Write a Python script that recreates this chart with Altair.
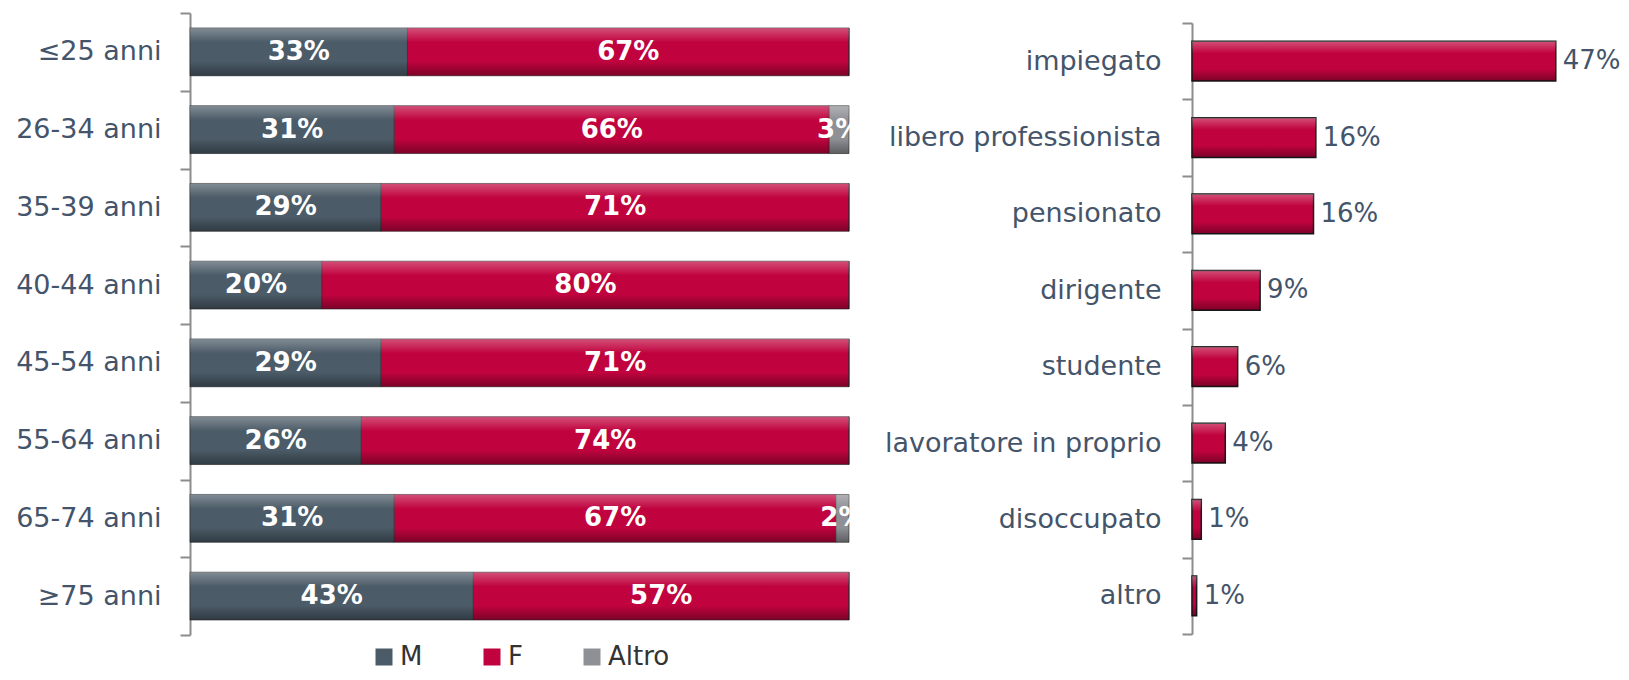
import altair as alt
import pandas as pd

# ---------------- data ----------------
age_groups = ["≤25 anni", "26-34 anni", "35-39 anni", "40-44 anni",
              "45-54 anni", "55-64 anni", "65-74 anni", "≥75 anni"]
pct_m = [33, 31, 29, 20, 29, 26, 31, 43]
pct_f = [67, 66, 71, 80, 71, 74, 67, 57]
pct_altro = [0, 3, 0, 0, 0, 0, 2, 0]
genders = ["M", "F", "Altro"]
gender_colors = ["#4B5B67", "#C0033E", "#8F9096"]

professions = ["impiegato", "libero professionista", "pensionato", "dirigente",
               "studente", "lavoratore in proprio", "disoccupato", "altro"]
prof_values = [47, 16, 15.7, 8.8, 5.9, 4.3, 1.2, 0.6]
prof_labels = ["47%", "16%", "16%", "9%", "6%", "4%", "1%", "1%"]

# ---------------- tables ----------------
rows = []
for i, age in enumerate(age_groups):
    for k, (g, vals) in enumerate(zip(genders, [pct_m, pct_f, pct_altro])):
        rows.append({"age": age, "gender": g, "order": k, "value": vals[i],
                     "label": f"{vals[i]}%"})
df_left = pd.DataFrame(rows)
df_right = pd.DataFrame({"prof": professions, "value": prof_values, "label": prof_labels})

FONT = "DejaVu Sans"
LABEL_COLOR = "#44546A"
AXIS_COLOR = "#8C8C8C"

bevel = alt.Gradient(
    gradient="linear", x1=0, x2=0, y1=0, y2=1,
    stops=[
        alt.GradientStop(color="rgba(255,255,255,0.30)", offset=0),
        alt.GradientStop(color="rgba(255,255,255,0.12)", offset=0.18),
        alt.GradientStop(color="rgba(255,255,255,0.0)", offset=0.3),
        alt.GradientStop(color="rgba(0,0,0,0.0)", offset=0.7),
        alt.GradientStop(color="rgba(0,0,0,0.15)", offset=0.82),
        alt.GradientStop(color="rgba(0,0,0,0.35)", offset=1),
    ],
)

H = 622
LEFT_BAR = alt.RelativeBandSize(0.615)
RIGHT_BAR = alt.RelativeBandSize(0.52)

# ---------------- left chart ----------------
y_left = alt.Y("age:N", sort=age_groups, title=None,
               scale=alt.Scale(paddingInner=0, paddingOuter=0),
               axis=alt.Axis(tickBand="extent", minExtent=177, maxExtent=177,
                             labelPadding=19))
x_left = alt.X("value:Q", stack="zero", scale=alt.Scale(domain=[0, 100]), axis=None)

bars_left = alt.Chart(df_left).mark_bar(height=LEFT_BAR, stroke="#2a2a2a",
                                        strokeWidth=0.6).encode(
    y=y_left,
    x=x_left,
    color=alt.Color("gender:N", scale=alt.Scale(domain=genders, range=gender_colors),
                    legend=alt.Legend(title=None, orient="none", direction="horizontal",
                                      legendX=181, legendY=631, symbolType="square",
                                      symbolSize=289, symbolStrokeWidth=0,
                                      labelFontSize=26, labelColor="#333333",
                                      labelFont=FONT, columnPadding=56,
                                      labelOffset=3, padding=0)),
    order=alt.Order("order:Q"),
)
shine_left = alt.Chart(df_left).mark_bar(height=LEFT_BAR, fill=bevel,
                                         strokeWidth=0).encode(
    y=alt.Y("age:N", sort=age_groups),
    x=x_left,
    detail="gender:N",
    order=alt.Order("order:Q"),
)

text_left = alt.Chart(df_left).transform_filter("datum.value > 0").transform_window(
    cum="sum(value)", sort=[alt.SortField("order")], groupby=["age"],
    frame=[None, 0]
).transform_calculate(mid="datum.cum - datum.value / 2").mark_text(
    color="white", fontWeight="bold", fontSize=26, font=FONT
).encode(
    y=alt.Y("age:N", sort=age_groups),
    x=alt.X("mid:Q", scale=alt.Scale(domain=[0, 100]), axis=None),
    text="label:N",
)

left = alt.layer(bars_left, shine_left, text_left).properties(width=659, height=H)

# ---------------- right chart ----------------
y_right = alt.Y("prof:N", sort=professions, title=None,
                scale=alt.Scale(paddingInner=0, paddingOuter=0, range=[10, H - 1]),
                axis=alt.Axis(tickBand="extent", labelPadding=21, labelLimit=400))
x_right = alt.X("value:Q", scale=alt.Scale(domain=[0, 50]), axis=None)

bars_right = alt.Chart(df_right).mark_bar(height=RIGHT_BAR, color="#C0033E",
                                          stroke="#1a1a1a",
                                          strokeWidth=1.5).encode(y=y_right, x=x_right)
shine_right = alt.Chart(df_right).mark_bar(height=RIGHT_BAR, fill=bevel,
                                           strokeWidth=0).encode(
    y=alt.Y("prof:N", sort=professions), x=x_right)
text_right = alt.Chart(df_right).mark_text(
    align="left", dx=7, fontSize=26, font=FONT, color=LABEL_COLOR
).encode(
    y=alt.Y("prof:N", sort=professions),
    x=x_right,
    text="label:N",
)
right = alt.layer(bars_right, shine_right, text_right).properties(width=387, height=H)

chart = alt.hconcat(left, right, spacing=343, bounds="flush").resolve_scale(
    color="independent", y="independent", x="independent"
).properties(
    padding={"left": 5, "top": -9, "right": 0, "bottom": 0}
).configure_view(stroke=None).configure_axis(
    domainColor=AXIS_COLOR, domainWidth=2, tickColor=AXIS_COLOR, tickWidth=2,
    tickSize=10, labelFontSize=27, labelColor=LABEL_COLOR, labelFont=FONT,
    grid=False, labelLimit=400,
)

chart.save("out.html", embed_options={"renderer": "svg", "actions": False})
